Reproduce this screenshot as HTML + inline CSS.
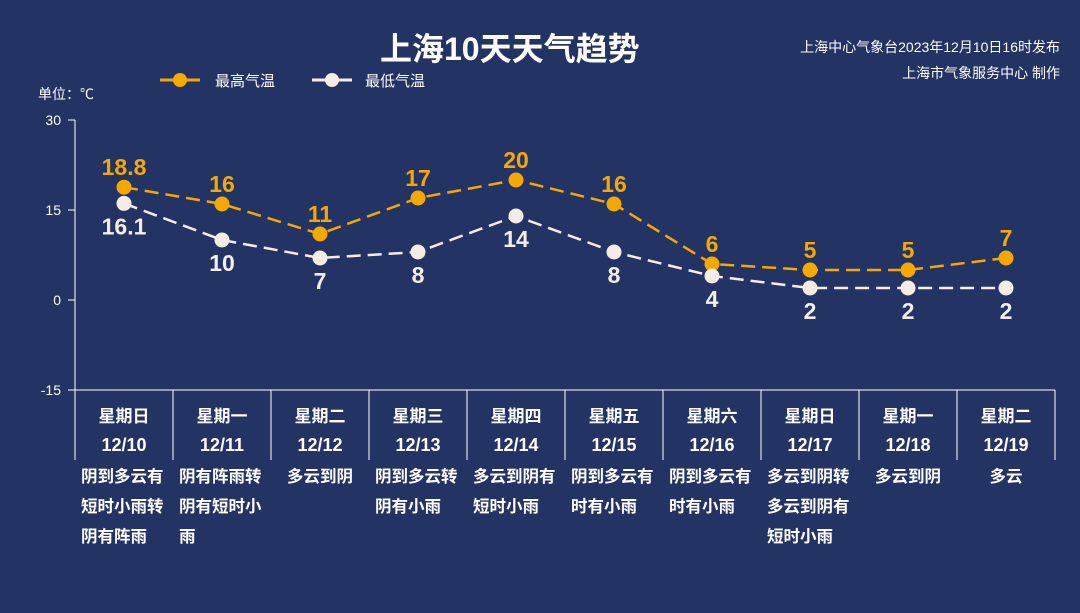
<!DOCTYPE html>
<html><head><meta charset="utf-8"><style>
html,body{margin:0;padding:0;background:#233464;}
body{width:1080px;height:613px;overflow:hidden;position:relative;font-family:"Liberation Sans","Noto Sans CJK SC",sans-serif;color:#fff;}
.t{position:absolute;white-space:nowrap;}
.desc{position:absolute;width:98px;font-size:16.5px;font-weight:bold;line-height:30px;box-sizing:border-box;padding-left:6px;white-space:nowrap;}
.desc.c{text-align:center;padding-left:0;}
</style></head><body>
<div class="t" style="left:380px;top:24px;font-size:32px;font-weight:bold;">上海10天天气趋势</div>
<div class="t" style="right:20px;top:34px;font-size:14px;text-align:right;line-height:26px;">上海中心气象台2023年12月10日16时发布<br>上海市气象服务中心 制作</div>
<div class="t" style="left:38px;top:84px;font-size:14px;">单位：℃</div>
<svg id="chart" width="1080" height="613" style="position:absolute;left:0;top:0"></svg>
<div id="descs"></div>
<script>
const days=["星期日","星期一","星期二","星期三","星期四","星期五","星期六","星期日","星期一","星期二"];
const dates=["12/10","12/11","12/12","12/13","12/14","12/15","12/16","12/17","12/18","12/19"];
const highs=[18.8,16,11,17,20,16,6,5,5,7];
const lows=[16.1,10,7,8,14,8,4,2,2,2];
const yTicks=[30,15,0,-15];
const weather=[["阴到多云有","短时小雨转","阴有阵雨"],["阴有阵雨转","阴有短时小","雨"],["多云到阴"],["阴到多云转","阴有小雨"],["多云到阴有","短时小雨"],["阴到多云有","时有小雨"],["阴到多云有","时有小雨"],["多云到阴转","多云到阴有","短时小雨"],["多云到阴"],["多云"]];
const NS="http://www.w3.org/2000/svg";
const svg=document.getElementById('chart');
const X0=75,BW=98,Y0=300,PX=6;
function xs(i){return X0+BW*i+BW/2;}
function ys(v){return Y0-v*PX;}
function mk(tag,at,txt){const e=document.createElementNS(NS,tag);for(const k in at)e.setAttribute(k,at[k]);if(txt!==undefined)e.textContent=txt;svg.appendChild(e);return e;}
let e=mk('line',{x1:X0,y1:ys(30),x2:X0,y2:ys(-15),stroke:'#fff','stroke-width':1});


yTicks.forEach(v=>{
 let l=mk('line',{x1:X0-7,y1:ys(v),x2:X0,y2:ys(v),stroke:'#fff'});
 
 
 let t=mk('text',{x:X0-14,y:ys(v)+5,'text-anchor':'end','font-size':14,fill:'#fff'},String(v));
 
 
});
e=mk('line',{x1:X0,y1:390,x2:X0+BW*days.length,y2:390,stroke:'#fff'});


for(let i=0;i<=days.length;i++){
 let l=mk('line',{x1:X0+BW*i,y1:390,x2:X0+BW*i,y2:460,stroke:'#fff'});
 
 
}
days.forEach((d,i)=>{
 let t=mk('text',{x:xs(i),y:422,'text-anchor':'middle','font-size':17,'font-weight':'bold',fill:'#fff'},d);
 
 
 t=mk('text',{x:xs(i),y:451,'text-anchor':'middle','font-size':18,'font-weight':'bold',fill:'#fff'},dates[i]);
 
 
});
e=mk('line',{x1:160,y1:80,x2:200,y2:80,stroke:'#f5a800','stroke-width':3});


e=mk('circle',{cx:180,cy:80,r:7,fill:'#f5a800'});


e=mk('text',{x:215,y:86,'font-size':15,fill:'#fff'},'最高气温');


e=mk('line',{x1:312,y1:80,x2:352,y2:80,stroke:'#f5ece6','stroke-width':3});


e=mk('circle',{cx:332,cy:80,r:7,fill:'#f5ece6'});


e=mk('text',{x:365,y:86,'font-size':15,fill:'#fff'},'最低气温');


function series(vals,color,name,above){
 const p=mk('polyline',{points:vals.map((v,i)=>xs(i)+','+ys(v)).join(' '),fill:'none',stroke:color,'stroke-width':2.5,'stroke-dasharray':'14,7'});
 
 
 vals.forEach((v,i)=>{
  const c=mk('circle',{cx:xs(i),cy:ys(v),r:7.5,fill:color});
  
  
  const t=mk('text',{x:xs(i),y:above?ys(v)-12:ys(v)+31,'text-anchor':'middle','font-size':23,'font-weight':'bold',fill:above?'#f5a800':'#f3eee8'},String(v));
  
  
 });
}
series(highs,'#f5a800','high-temp',true);
series(lows,'#f5ece6','low-temp',false);
const dc=document.getElementById('descs');
weather.forEach((w,i)=>{
 const d=document.createElement('div');
 d.className='desc'+(w.length===1?' c':'');
 d.style.left=(X0+BW*i)+'px';d.style.top='462px';
 d.innerHTML=w.join('<br>');
 
 
 dc.appendChild(d);
});
</script>
</body></html>
